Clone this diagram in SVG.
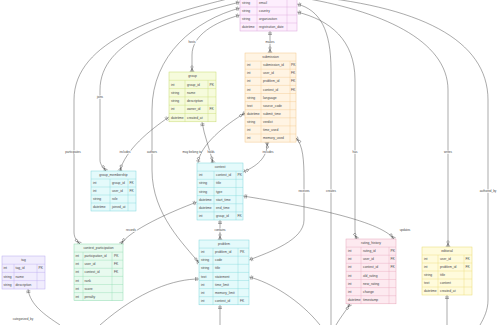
<svg xmlns="http://www.w3.org/2000/svg" width="500" height="325" viewBox="0 0 500 325">
<defs>
<style>
.t{font-family:"Liberation Sans",Arial,sans-serif;font-size:3.3px;fill:#444;dominant-baseline:central}
.h{text-anchor:middle}
.lbl{font-family:"Liberation Sans",Arial,sans-serif;font-size:3px;fill:#444;text-anchor:middle;dominant-baseline:central}
.lb{fill:#fff;fill-opacity:0.85}
.e{fill:none;stroke:#444;stroke-width:0.45}
.g{stroke-width:0.4;fill:none}
.user .b{fill:#fdeefd;stroke:#d9a3d9}.user .g{stroke:#d9a3d9}
.grp .b{fill:#f6fbdc;stroke:#c8dc70}.grp .g{stroke:#c8dc70}
.sub .b{fill:#fff4e3;stroke:#f2c88c}.sub .g{stroke:#f2c88c}
.cyan .b{fill:#e4fafb;stroke:#7fd6dc}.cyan .g{stroke:#7fd6dc}
.cp .b{fill:#e8faef;stroke:#90dcb0}.cp .g{stroke:#90dcb0}
.rh .b{fill:#fdeaf0;stroke:#e8a6ba}.rh .g{stroke:#e8a6ba}
.ed .b{fill:#fffbdc;stroke:#e8da70}.ed .g{stroke:#e8da70}
.tag .b{fill:#f1edfd;stroke:#b9aaf0}.tag .g{stroke:#b9aaf0}
</style>
<marker id="zm" viewBox="-8 -4 9 8" refX="0" refY="0" markerWidth="9" markerHeight="8" markerUnits="userSpaceOnUse" orient="auto-start-reverse">
<path d="M-3.5,0L0,-2M-3.5,0L0,2M-3.5,0L0,0" fill="none" stroke="#444" stroke-width="0.45"/>
<circle cx="-5" cy="0" r="1.1" fill="#fff" stroke="#444" stroke-width="0.45"/>
</marker>
<marker id="one" viewBox="-8 -4 9 8" refX="0" refY="0" markerWidth="9" markerHeight="8" markerUnits="userSpaceOnUse" orient="auto-start-reverse">
<path d="M-2,-2L-2,2M-3.5,-2L-3.5,2" fill="none" stroke="#444" stroke-width="0.45"/>
</marker>
<marker id="zo" viewBox="-8 -4 9 8" refX="0" refY="0" markerWidth="9" markerHeight="8" markerUnits="userSpaceOnUse" orient="auto-start-reverse">
<path d="M-2,-2L-2,2" fill="none" stroke="#444" stroke-width="0.45"/>
<circle cx="-4.5" cy="0" r="1.1" fill="#fff" stroke="#444" stroke-width="0.45"/>
</marker>
</defs>
<rect width="500" height="325" fill="#fff"/>

<g id="connectors">
<path class="e" d="M240,-4 C160,15 74,40 74,100 L74,232 C74,238 77,241 80,244" marker-start="url(#one)" marker-end="url(#zm)"/>
<path class="e" d="M240,2 C170,20 100,40 100,90 L100,160 C100,165 104,168 106,171" marker-start="url(#one)" marker-end="url(#zm)"/>
<path class="e" d="M240,8 C195,20 152,55 152,110 L152,170 C152,215 185,245 199,263" marker-start="url(#one)" marker-end="url(#zm)"/>
<path class="e" d="M240,15 C215,22 192,35 192,55 L192,72" marker-start="url(#one)" marker-end="url(#zm)"/>
<path class="e" d="M270,31 L270,53" marker-start="url(#one)" marker-end="url(#zm)"/>
<path class="e" d="M297,4 C320,10 331,30 331,70 L331,325" marker-start="url(#one)"/>
<path class="e" d="M297,12 C330,20 355,40 355,80 L355,230 C355,234 356,237 357,239" marker-start="url(#one)" marker-end="url(#zm)"/>
<path class="e" d="M297,-3 C380,10 448,40 448,90 L448,247" marker-end="url(#zm)"/>
<path class="e" d="M297,-5 C420,5 488,40 488,100 L488,300 C488,310 484,318 480,325"/>
<path class="e" d="M202,122 C204,135 210,150 213,163" marker-start="url(#one)" marker-end="url(#zm)"/>
<path class="e" d="M169,117 C150,130 125,150 120,171" marker-start="url(#one)" marker-end="url(#zm)"/>
<path class="e" d="M245,113 C225,125 200,145 198,163" marker-start="url(#zm)" marker-end="url(#zo)"/>
<path class="e" d="M267,142 C268,155 260,165 243,172" marker-start="url(#zm)" marker-end="url(#zo)"/>
<path class="e" d="M296,138 C303,145 304,160 304,180 L304,220 C304,240 270,252 249,260" marker-start="url(#zm)" marker-end="url(#one)"/>
<path class="e" d="M197,202 C170,212 130,230 121,244" marker-start="url(#one)" marker-end="url(#zm)"/>
<path class="e" d="M243,196 C300,205 380,220 394,239" marker-start="url(#one)" marker-end="url(#zm)"/>
<path class="e" d="M220,220 L220,240" marker-start="url(#one)" marker-end="url(#zm)"/>
<path class="e" d="M249,277 C270,282 300,300 320,325" marker-start="url(#one)"/>
<path class="e" d="M199,279 C175,279 140,290 100,325" marker-start="url(#one)"/>
<path class="e" d="M220,305 L220,325" marker-start="url(#one)"/>
<path class="e" d="M447,295 L447,325" marker-start="url(#one)"/>
<path class="e" d="M28,289 C30,305 45,315 60,325" marker-start="url(#one)"/>
<path class="e" d="M350,304 C345,312 340,318 336,325" marker-start="url(#zm)"/>
</g>

<g id="labels">
<rect class="lb" x="64" y="150.3" width="18" height="3.6"/><text class="lbl" x="73" y="152">participates</text>
<rect class="lb" x="95" y="95.3" width="10" height="3.6"/><text class="lbl" x="100" y="97">joins</text>
<rect class="lb" x="146" y="150.3" width="12" height="3.6"/><text class="lbl" x="152" y="152">authors</text>
<rect class="lb" x="187" y="40.3" width="10" height="3.6"/><text class="lbl" x="192" y="42">hosts</text>
<rect class="lb" x="265" y="40.3" width="10" height="3.6"/><text class="lbl" x="270" y="42">makes</text>
<rect class="lb" x="325" y="189.3" width="12" height="3.6"/><text class="lbl" x="331" y="191">creates</text>
<rect class="lb" x="351" y="150.3" width="8" height="3.6"/><text class="lbl" x="355" y="152">has</text>
<rect class="lb" x="442" y="150.3" width="12" height="3.6"/><text class="lbl" x="448" y="152">writes</text>
<rect class="lb" x="479" y="189.3" width="18" height="3.6"/><text class="lbl" x="488" y="191">authored_by</text>
<rect class="lb" x="205" y="150.3" width="12" height="3.6"/><text class="lbl" x="211" y="152">holds</text>
<rect class="lb" x="119" y="150.3" width="12" height="3.6"/><text class="lbl" x="125" y="152">includes</text>
<rect class="lb" x="183" y="150.3" width="18" height="3.6"/><text class="lbl" x="192" y="152">may belong to</text>
<rect class="lb" x="262" y="150.3" width="12" height="3.6"/><text class="lbl" x="268" y="152">includes</text>
<rect class="lb" x="298" y="189.3" width="12" height="3.6"/><text class="lbl" x="304" y="191">receives</text>
<rect class="lb" x="125" y="228.3" width="12" height="3.6"/><text class="lbl" x="131" y="230">records</text>
<rect class="lb" x="399" y="228.3" width="12" height="3.6"/><text class="lbl" x="405" y="230">updates</text>
<rect class="lb" x="213" y="228.3" width="14" height="3.6"/><text class="lbl" x="220" y="230">contains</text>
<rect class="lb" x="12" y="317.3" width="22" height="3.6"/><text class="lbl" x="23" y="319">categorized_by</text>
</g>

<g id="user" class="user">
<rect class="b" x="240" y="-9" width="57" height="40" stroke-width="0.5"/>
<path class="g" d="M240,-1H297M240,7H297M240,15H297M240,23H297M257,-9V31M287,-9V31"/>
<text class="t" x="242" y="3">string</text><text class="t" x="259" y="3">email</text>
<text class="t" x="242" y="11">string</text><text class="t" x="259" y="11">country</text>
<text class="t" x="242" y="19">string</text><text class="t" x="259" y="19">organization</text>
<text class="t" x="242" y="27">datetime</text><text class="t" x="259" y="27">registration_date</text>
</g>

<g id="group" class="grp">
<rect class="b" x="169" y="72" width="47" height="49.8" stroke-width="0.5"/>
<path class="g" d="M169,80.3H216M169,88.6H216M169,96.9H216M169,105.2H216M169,113.5H216M185,80.3V121.8M208,80.3V121.8"/>
<text class="t h" x="192.5" y="76.2">group</text>
<text class="t" x="171" y="84.5">int</text><text class="t" x="187" y="84.5">group_id</text><text class="t" x="209.5" y="84.5">PK</text>
<text class="t" x="171" y="92.8">string</text><text class="t" x="187" y="92.8">name</text>
<text class="t" x="171" y="101.1">string</text><text class="t" x="187" y="101.1">description</text>
<text class="t" x="171" y="109.4">int</text><text class="t" x="187" y="109.4">owner_id</text><text class="t" x="209.5" y="109.4">FK</text>
<text class="t" x="171" y="117.7">datetime</text><text class="t" x="187" y="117.7">created_at</text>
</g>

<g id="submission" class="sub">
<rect class="b" x="245" y="53" width="51" height="89.1" stroke-width="0.5"/>
<path class="g" d="M245,61.1H296M245,69.2H296M245,77.3H296M245,85.4H296M245,93.5H296M245,101.6H296M245,109.7H296M245,117.8H296M245,125.9H296M245,134H296M261,61.1V142.1M290,61.1V142.1"/>
<text class="t h" x="270.5" y="57.1">submission</text>
<text class="t" x="247" y="65.2">int</text><text class="t" x="263" y="65.2">submission_id</text><text class="t" x="291" y="65.2">PK</text>
<text class="t" x="247" y="73.3">int</text><text class="t" x="263" y="73.3">user_id</text><text class="t" x="291" y="73.3">FK</text>
<text class="t" x="247" y="81.4">int</text><text class="t" x="263" y="81.4">problem_id</text><text class="t" x="291" y="81.4">FK</text>
<text class="t" x="247" y="89.5">int</text><text class="t" x="263" y="89.5">contest_id</text><text class="t" x="291" y="89.5">FK</text>
<text class="t" x="247" y="97.6">string</text><text class="t" x="263" y="97.6">language</text>
<text class="t" x="247" y="105.7">text</text><text class="t" x="263" y="105.7">source_code</text>
<text class="t" x="247" y="113.8">datetime</text><text class="t" x="263" y="113.8">submit_time</text>
<text class="t" x="247" y="121.9">string</text><text class="t" x="263" y="121.9">verdict</text>
<text class="t" x="247" y="130">int</text><text class="t" x="263" y="130">time_used</text>
<text class="t" x="247" y="138.1">int</text><text class="t" x="263" y="138.1">memory_used</text>
</g>

<g id="group_membership" class="cyan">
<rect class="b" x="91" y="171" width="45" height="40" stroke-width="0.5"/>
<path class="g" d="M91,179H136M91,187H136M91,195H136M91,203H136M110,179V211M128,179V211"/>
<text class="t h" x="113.5" y="175">group_membership</text>
<text class="t" x="93" y="183">int</text><text class="t" x="112" y="183">group_id</text><text class="t" x="129.5" y="183">FK</text>
<text class="t" x="93" y="191">int</text><text class="t" x="112" y="191">user_id</text><text class="t" x="129.5" y="191">FK</text>
<text class="t" x="93" y="199">string</text><text class="t" x="112" y="199">role</text>
<text class="t" x="93" y="207">datetime</text><text class="t" x="112" y="207">joined_at</text>
</g>

<g id="contest" class="cyan">
<rect class="b" x="197" y="163" width="46" height="57" stroke-width="0.5"/>
<path class="g" d="M197,171.15H243M197,179.3H243M197,187.45H243M197,195.6H243M197,203.75H243M197,211.9H243M214,171.15V220M236,171.15V220"/>
<text class="t h" x="220" y="167.1">contest</text>
<text class="t" x="199" y="175.2">int</text><text class="t" x="216" y="175.2">contest_id</text><text class="t" x="237.5" y="175.2">PK</text>
<text class="t" x="199" y="183.4">string</text><text class="t" x="216" y="183.4">title</text>
<text class="t" x="199" y="191.5">string</text><text class="t" x="216" y="191.5">type</text>
<text class="t" x="199" y="199.7">datetime</text><text class="t" x="216" y="199.7">start_time</text>
<text class="t" x="199" y="207.8">datetime</text><text class="t" x="216" y="207.8">end_time</text>
<text class="t" x="199" y="216">int</text><text class="t" x="216" y="216">group_id</text><text class="t" x="237.5" y="216">FK</text>
</g>

<g id="problem" class="cyan">
<rect class="b" x="199" y="240" width="50" height="64.8" stroke-width="0.5"/>
<path class="g" d="M199,248.1H249M199,256.2H249M199,264.3H249M199,272.4H249M199,280.5H249M199,288.6H249M199,296.7H249M213,248.1V304.8M238,248.1V304.8"/>
<text class="t h" x="224" y="244.1">problem</text>
<text class="t" x="201" y="252.2">int</text><text class="t" x="215" y="252.2">problem_id</text><text class="t" x="240" y="252.2">PK</text>
<text class="t" x="201" y="260.3">string</text><text class="t" x="215" y="260.3">code</text>
<text class="t" x="201" y="268.4">string</text><text class="t" x="215" y="268.4">title</text>
<text class="t" x="201" y="276.5">text</text><text class="t" x="215" y="276.5">statement</text>
<text class="t" x="201" y="284.6">int</text><text class="t" x="215" y="284.6">time_limit</text>
<text class="t" x="201" y="292.7">int</text><text class="t" x="215" y="292.7">memory_limit</text>
<text class="t" x="201" y="300.8">int</text><text class="t" x="215" y="300.8">contest_id</text><text class="t" x="240" y="300.8">FK</text>
</g>

<g id="contest_participation" class="cp">
<rect class="b" x="74" y="244" width="49" height="56.7" stroke-width="0.5"/>
<path class="g" d="M74,252.1H123M74,260.2H123M74,268.3H123M74,276.4H123M74,284.5H123M74,292.6H123M83,252.1V300.7M112,252.1V300.7"/>
<text class="t h" x="98.5" y="248.1">contest_participation</text>
<text class="t" x="75.5" y="256.2">int</text><text class="t" x="84.5" y="256.2">participation_id</text><text class="t" x="114" y="256.2">PK</text>
<text class="t" x="75.5" y="264.3">int</text><text class="t" x="84.5" y="264.3">user_id</text><text class="t" x="114" y="264.3">FK</text>
<text class="t" x="75.5" y="272.4">int</text><text class="t" x="84.5" y="272.4">contest_id</text><text class="t" x="114" y="272.4">FK</text>
<text class="t" x="75.5" y="280.5">int</text><text class="t" x="84.5" y="280.5">rank</text>
<text class="t" x="75.5" y="288.6">int</text><text class="t" x="84.5" y="288.6">score</text>
<text class="t" x="75.5" y="296.7">int</text><text class="t" x="84.5" y="296.7">penalty</text>
</g>

<g id="rating_history" class="rh">
<rect class="b" x="346" y="239" width="50" height="64.8" stroke-width="0.5"/>
<path class="g" d="M346,247.1H396M346,255.2H396M346,263.3H396M346,271.4H396M346,279.5H396M346,287.6H396M346,295.7H396M361,247.1V303.8M389,247.1V303.8"/>
<text class="t h" x="371" y="243.1">rating_history</text>
<text class="t" x="348" y="251.2">int</text><text class="t" x="363" y="251.2">rating_id</text><text class="t" x="390.5" y="251.2">PK</text>
<text class="t" x="348" y="259.3">int</text><text class="t" x="363" y="259.3">user_id</text><text class="t" x="390.5" y="259.3">FK</text>
<text class="t" x="348" y="267.4">int</text><text class="t" x="363" y="267.4">contest_id</text><text class="t" x="390.5" y="267.4">FK</text>
<text class="t" x="348" y="275.5">int</text><text class="t" x="363" y="275.5">old_rating</text>
<text class="t" x="348" y="283.6">int</text><text class="t" x="363" y="283.6">new_rating</text>
<text class="t" x="348" y="291.7">int</text><text class="t" x="363" y="291.7">change</text>
<text class="t" x="348" y="299.8">datetime</text><text class="t" x="363" y="299.8">timestamp</text>
</g>

<g id="editorial" class="ed">
<rect class="b" x="422" y="247" width="50" height="48" stroke-width="0.5"/>
<path class="g" d="M422,255H472M422,263H472M422,271H472M422,279H472M422,287H472M438,255V295M464,255V295"/>
<text class="t h" x="447" y="251">editorial</text>
<text class="t" x="424" y="259">int</text><text class="t" x="440" y="259">user_id</text><text class="t" x="465.5" y="259">FK</text>
<text class="t" x="424" y="267">int</text><text class="t" x="440" y="267">problem_id</text><text class="t" x="465.5" y="267">FK</text>
<text class="t" x="424" y="275">string</text><text class="t" x="440" y="275">title</text>
<text class="t" x="424" y="283">text</text><text class="t" x="440" y="283">content</text>
<text class="t" x="424" y="291">datetime</text><text class="t" x="440" y="291">created_at</text>
</g>

<g id="tag" class="tag">
<rect class="b" x="2" y="256" width="43" height="33" stroke-width="0.5"/>
<path class="g" d="M2,264.2H45M2,272.4H45M2,280.6H45M14,264.2V289M37,264.2V289"/>
<text class="t h" x="23.5" y="260.1">tag</text>
<text class="t" x="3.5" y="268.3">int</text><text class="t" x="15.5" y="268.3">tag_id</text><text class="t" x="38.5" y="268.3">PK</text>
<text class="t" x="3.5" y="276.5">string</text><text class="t" x="15.5" y="276.5">name</text>
<text class="t" x="3.5" y="284.7">string</text><text class="t" x="15.5" y="284.7">description</text>
</g>
</svg>
